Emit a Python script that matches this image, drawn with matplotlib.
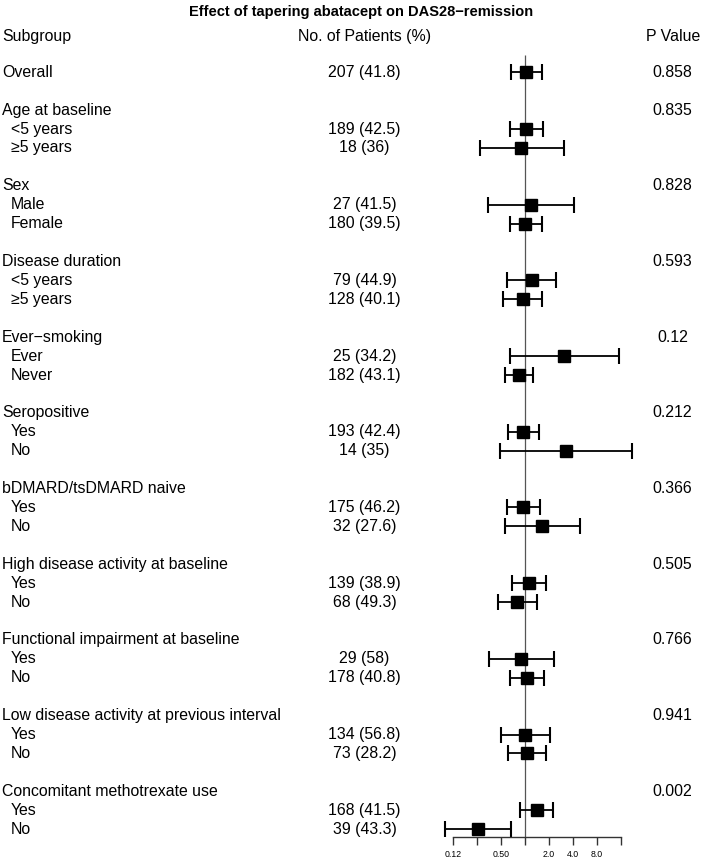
import matplotlib
matplotlib.use("Agg")
import matplotlib.pyplot as plt
import numpy as np

plt.rcParams['font.family'] = ['Liberation Sans', 'DejaVu Sans']

# ---------------- data ----------------
title = "Effect of tapering abatacept on DAS28\u2212remission"
overall_label = "Overall"
overall_n = "207 (41.8)"
overall_p = "0.858"
overall_est = [1.03, 0.66, 1.62]

group_names = ["Age at baseline", "Sex", "Disease duration", "Ever\u2212smoking",
               "Seropositive", "bDMARD/tsDMARD naive",
               "High disease activity at baseline",
               "Functional impairment at baseline",
               "Low disease activity at previous interval",
               "Concomitant methotrexate use"]
group_levels = [["<5 years", "\u22655 years"], ["Male", "Female"],
                ["<5 years", "\u22655 years"], ["Ever", "Never"],
                ["Yes", "No"], ["Yes", "No"], ["Yes", "No"], ["Yes", "No"],
                ["Yes", "No"], ["Yes", "No"]]
group_n = [["189 (42.5)", "18 (36)"], ["27 (41.5)", "180 (39.5)"],
           ["79 (44.9)", "128 (40.1)"], ["25 (34.2)", "182 (43.1)"],
           ["193 (42.4)", "14 (35)"], ["175 (46.2)", "32 (27.6)"],
           ["139 (38.9)", "68 (49.3)"], ["29 (58)", "178 (40.8)"],
           ["134 (56.8)", "73 (28.2)"], ["168 (41.5)", "39 (43.3)"]]
group_p = ["0.835", "0.828", "0.593", "0.12", "0.212", "0.366", "0.505",
           "0.766", "0.941", "0.002"]
# odds ratio estimates, lower CI, upper CI (level order as above)
est = [[1.03, 0.89], [1.18, 1.00], [1.21, 0.94], [3.08, 0.84], [0.94, 3.27],
       [0.95, 1.65], [1.12, 0.79], [0.89, 1.05], [1.01, 1.05], [1.40, 0.255]]
lower = [[0.65, 0.27], [0.34, 0.64], [0.60, 0.53], [0.64, 0.56], [0.61, 0.49],
         [0.59, 0.56], [0.69, 0.46], [0.35, 0.64], [0.50, 0.61], [0.87, 0.099]]
upper = [[1.67, 3.08], [4.12, 1.63], [2.45, 1.65], [14.9, 1.27], [1.49, 22.2],
         [1.53, 4.9], [1.83, 1.41], [2.31, 1.73], [2.08, 1.83], [2.26, 0.66]]

tick_values = [0.125, 0.25, 0.5, 1, 2, 4, 8, 16]
tick_labels = ["0.12", "", "0.50", "", "2.0", "4.0", "8.0", ""]

# ---------------- layout ----------------
W, H, DPI = 703, 861, 100
row_px = 18.92
row0_px = 72.3

def px2row(p):
    return (p - row0_px) / row_px

fig = plt.figure(figsize=(W / DPI, H / DPI), dpi=DPI)
ylim = (px2row(H), px2row(0))

ax_t = fig.add_axes([0, 0, 1, 1])
ax_t.set_xlim(0, W)
ax_t.set_ylim(*ylim)
ax_t.axis('off')

fx0, fx1, xone, per2 = 430, 660, 525, 24.0
ax_f = fig.add_axes([fx0 / W, 0, (fx1 - fx0) / W, 1])
ax_f.set_xscale('log', base=2)
ax_f.set_xlim(2 ** ((fx0 - xone) / per2), 2 ** ((fx1 - xone) / per2))
ax_f.set_ylim(*ylim)
ax_f.patch.set_alpha(0)
for s in ['top', 'left', 'right']:
    ax_f.spines[s].set_visible(False)

fs = 11.4
# headers
ax_t.text(361, px2row(12), title, ha='center', va='center', fontsize=10.5,
          fontweight='bold')
ax_t.text(2, px2row(36), "Subgroup", ha='left', va='center', fontsize=fs)
ax_t.text(364.5, px2row(36), "No. of Patients (%)", ha='center', va='center', fontsize=fs)
ax_t.text(673, px2row(36), "P Value", ha='center', va='center', fontsize=fs)

# rows
rows_y, E, L, U = [], [], [], []
ax_t.text(2, 0, overall_label, ha='left', va='center', fontsize=fs)
ax_t.text(364.5, 0, overall_n, ha='center', va='center', fontsize=fs)
ax_t.text(672.5, 0, overall_p, ha='center', va='center', fontsize=fs)
rows_y.append(0)
E.append(overall_est[0]); L.append(overall_est[1]); U.append(overall_est[2])

for g, name in enumerate(group_names):
    hy = 2 + 4 * g
    ax_t.text(2, hy, name, ha='left', va='center', fontsize=fs)
    ax_t.text(672.5, hy, group_p[g], ha='center', va='center', fontsize=fs)
    for k, lev in enumerate(group_levels[g]):
        y = hy + 1 + k
        ax_t.text(11, y, lev, ha='left', va='center', fontsize=fs)
        ax_t.text(364.5, y, group_n[g][k], ha='center', va='center', fontsize=fs)
        rows_y.append(y)
        E.append(est[g][k]); L.append(lower[g][k]); U.append(upper[g][k])

E, L, U, rows_y = map(np.array, (E, L, U, rows_y))
axis_row = px2row(837.3)

ax_f.vlines(1, px2row(55), axis_row, color='#555555', lw=0.9, zorder=1)
ax_f.errorbar(E, rows_y, xerr=[E - L, U - E], fmt='none', ecolor='black',
              elinewidth=1.3, capsize=5.8, capthick=1.5, zorder=2)
ax_f.plot(E, rows_y, 's', color='black', markersize=9, zorder=3)

ax_f.spines['bottom'].set_position(('data', axis_row))
ax_f.spines['bottom'].set_bounds(tick_values[0], tick_values[-1])
ax_f.spines['bottom'].set_color('#333333')
ax_f.spines['bottom'].set_linewidth(1.0)
ax_f.set_xticks(tick_values)
ax_f.set_xticklabels(tick_labels)
ax_f.xaxis.set_minor_locator(matplotlib.ticker.NullLocator())
ax_f.tick_params(axis='x', direction='out', length=5.8, width=1.0,
                 color='#333333', labelsize=6.3, pad=3)
ax_f.set_yticks([])

fig.savefig("out.png", dpi=DPI)
